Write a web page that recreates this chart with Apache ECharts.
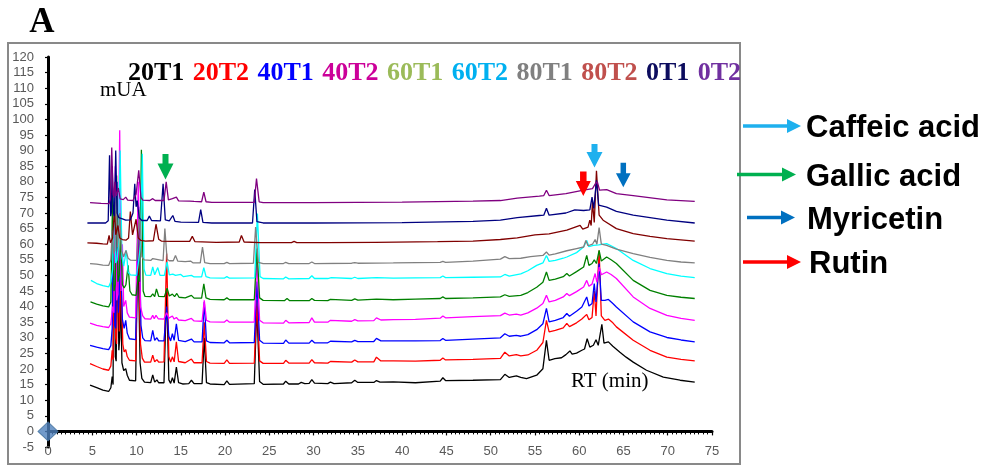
<!DOCTYPE html>
<html>
<head>
<meta charset="utf-8">
<script src="https://cdn.jsdelivr.net/npm/echarts/dist/echarts.min.js"></script>
<style>
html, body { margin: 0; padding: 0; background: #fff; }
#main { width: 988px; height: 466px; }
</style>
</head>
<body>
<div id="main"></div>
<script>
// sample names (legend) and compound labels
var sampleNames = ['20T1', '20T2', '40T1', '40T2', '60T1', '60T2', '80T1', '80T2', '0T1', '0T2'];
var compoundNames = ['Caffeic acid', 'Gallic acid', 'Myricetin', 'Rutin'];
var originPoint = [[0, 0]];

// chromatogram traces: [RT (min), mUA]
var trace20T1 = [[4.75,14.8],[5.5,14.0],[6.2,13.2],[6.85,12.8],[7.1,14],[7.25,17.6],[7.35,15],[7.45,70],[7.6,24],[7.7,22.5],[7.85,62],[8.0,26],[8.1,30],[8.2,45],[8.35,22],[8.55,19.5],[8.78,20.1],[8.95,18],[9.2,16.4],[9.9,16.2],[10.15,62],[10.4,22],[10.6,17],[10.9,15.8],[11.6,15.6],[11.83,18.1],[12.05,15.8],[12.3,16.5],[12.5,15.6],[13.1,15.6],[13.4,45],[13.65,16.5],[13.85,15.4],[14.05,17.2],[14.25,15.5],[14.5,20.6],[14.75,15.6],[15.2,15.2],[15.9,15.3],[16.2,16.4],[16.5,15.3],[17.4,15.3],[17.65,30],[17.9,15.6],[18.3,15.2],[19.9,15.0],[20.2,16.2],[20.5,15.1],[23.3,15.3],[23.58,40],[23.9,16],[24.3,15.1],[26.6,15.2],[26.85,16.1],[27.2,15.2],[28.3,15.2],[28.6,15.7],[29.0,15.3],[29.5,15.4],[29.8,16.6],[30.1,15.5],[31.6,15.3],[31.9,15.8],[32.3,15.3],[34.3,15.6],[34.65,16.4],[35,15.7],[36.8,15.7],[37.1,16.3],[37.5,15.8],[39,15.9],[41.5,15.6],[44.3,16.1],[44.6,17.2],[44.9,16.3],[48,16.4],[51.1,16.6],[51.6,18.3],[52.1,17.3],[52.9,17.8],[53.4,17.3],[54.05,16.9],[55.2,18],[55.9,20.1],[56.3,29.2],[56.6,22.8],[57.25,23.3],[58.0,23.6],[58.5,24.6],[58.95,25.8],[59.2,24.8],[59.7,25.1],[60.3,26],[60.6,26.4],[60.9,29.7],[61.2,27],[61.6,27.6],[61.9,29.4],[62.15,27.6],[62.56,34.3],[62.8,28.3],[63.3,28.7],[63.8,27.3],[64.6,25.4],[65.3,23.8],[66.1,22.2],[67.6,19.6],[69.5,17.4],[71.4,16.4],[73.05,15.8]];
var trace20T2 = [[4.75,21.7],[5.5,20.8],[6.2,20.0],[6.85,19.6],[7.1,21],[7.25,26],[7.35,23],[7.5,74],[7.65,30],[7.75,28],[7.9,68],[8.05,32],[8.25,50],[8.45,28],[8.6,25.5],[8.78,26.2],[8.95,24],[9.2,22.8],[9.9,22.6],[10.2,66],[10.45,28],[10.65,23.5],[10.9,22.2],[11.6,22.2],[11.83,24.4],[12.05,22.3],[12.3,23],[12.5,22.2],[13.1,22.3],[13.4,57],[13.65,24],[13.85,22.2],[14.05,23.9],[14.25,22.3],[14.5,28.7],[14.75,22.4],[15.5,22],[16.2,23.2],[16.5,22],[17.4,22],[17.65,35],[17.9,22.4],[18.3,21.9],[19.9,21.8],[20.2,22.9],[20.5,21.8],[23.3,21.9],[23.6,42],[23.9,22.6],[24.3,21.8],[26.6,21.8],[26.85,22.8],[27.2,21.9],[29.5,21.9],[29.8,23],[30.1,22],[31.6,21.9],[31.9,22.4],[34.3,22.2],[34.65,22.9],[35,22.3],[36.8,22.3],[37.1,23.8],[37.6,22.6],[39,22.6],[41.5,22.5],[44.3,22.8],[44.6,23.5],[44.9,22.9],[48,23.1],[51.1,23.4],[51.6,25.4],[52.1,24.2],[52.9,24.6],[53.4,24.2],[54.2,24.5],[55.2,26],[55.9,28.5],[56.3,35.6],[56.6,31.9],[57.3,32.4],[58.2,33.2],[58.6,34.6],[58.9,33.6],[59.7,34.8],[60.3,36],[60.85,37.5],[61.1,35.8],[61.45,36.5],[61.7,45],[61.9,37],[62.25,58],[62.5,37],[62.9,35.6],[63.3,36.0],[63.8,34.8],[64.2,33.5],[66.1,29.2],[68,26],[69.9,23.8],[71.5,23.1],[73.05,22.6]];
var trace40T1 = [[4.75,27.6],[5.5,27],[6.2,26.5],[6.85,26.2],[7.1,27.5],[7.25,33],[7.4,72],[7.55,34],[7.65,33],[7.8,80],[7.95,38],[8.2,55],[8.4,36],[8.6,33],[8.78,35.6],[8.95,31.5],[9.2,29.7],[9.9,29.4],[10.25,72],[10.5,34],[10.7,30],[10.95,29.1],[11.6,29],[11.83,32.4],[12.05,29.2],[12.3,30],[12.5,29],[13.1,29],[13.4,40],[13.65,30.5],[13.85,29],[14.05,31.3],[14.25,29.2],[14.5,34.5],[14.75,29.2],[15.5,28.8],[16.2,29.6],[16.5,28.7],[17.4,28.7],[17.65,41.5],[17.9,29],[18.3,28.5],[19.9,28.4],[20.2,29.2],[20.5,28.4],[23.3,28.5],[23.6,48],[23.9,29.2],[24.3,28.3],[26.6,28.2],[26.85,29.3],[27.2,28.3],[29.5,28.3],[29.8,29.2],[30.1,28.4],[31.6,28.4],[31.9,28.9],[34.3,28.7],[34.65,29.2],[35,28.8],[36.8,28.8],[37.1,29.8],[37.6,29],[39,29],[41.5,29],[44.3,29.1],[44.6,29.8],[44.9,29.2],[48,29.6],[51.1,30.0],[51.6,31.3],[52.1,30.5],[52.9,30.8],[53.4,30.5],[54.2,31],[55.2,32.6],[55.9,34.5],[56.3,39.4],[56.6,35.1],[57.3,35.6],[58.2,36.5],[58.6,37.8],[58.9,36.9],[59.7,38.5],[60.3,39.9],[60.85,43.1],[61.1,40.2],[61.45,41],[61.7,47.4],[61.9,41.5],[62.25,53.8],[62.5,42],[62.9,42],[63.3,42.3],[63.8,41],[64.2,39.9],[66.1,35.1],[68,31.9],[69.9,30.1],[71.5,29.3],[73.05,28.7]];
var trace40T2 = [[4.75,34.7],[5.5,34],[6.2,33.6],[6.85,33.3],[7.1,34.5],[7.3,40],[7.45,38],[7.6,85],[7.75,42],[7.9,44],[8.1,96.5],[8.25,45],[8.4,60],[8.55,40],[8.78,42],[8.95,38],[9.2,36.6],[9.9,36.4],[10.2,80],[10.45,40],[10.7,37],[10.95,36.1],[11.6,36],[11.83,37.2],[12.0,36.1],[12.2,37.2],[12.45,36.1],[13.1,36],[13.4,38],[13.65,36.3],[14.05,37],[14.25,36],[14.5,36.5],[14.75,35.7],[15.5,35.5],[16.2,36.2],[16.5,35.4],[17.4,35.3],[17.65,42],[17.9,35.6],[18.3,35.1],[19.9,35],[20.2,35.7],[20.5,35],[23.3,35],[23.6,55],[23.9,35.6],[24.3,34.8],[26.6,34.7],[26.85,35.6],[27.2,34.8],[29.5,34.9],[29.8,36.4],[30.1,35],[31.6,35],[31.9,35.6],[34.3,35.3],[34.65,35.8],[35,35.4],[36.8,35.5],[37.1,36.4],[37.6,35.7],[39,35.8],[41.5,35.9],[44.3,36.3],[44.6,37],[44.9,36.4],[48,36.8],[51.1,37.1],[51.6,37.9],[52.1,37.3],[52.9,37.6],[53.4,37.3],[54.2,38],[55.2,39.5],[55.9,41],[56.3,43.6],[56.6,41.5],[57.3,42],[58.2,43.1],[58.6,44.2],[58.9,43.5],[59.7,44.8],[60.5,46.3],[60.85,48.4],[61.1,46.5],[61.45,47.2],[61.8,50.6],[62.0,47.8],[62.25,52.7],[62.5,50.2],[63.1,51.1],[63.6,50.3],[64.2,49],[66.1,43.1],[68,39.4],[69.9,37.2],[71.5,36.2],[73.05,35.6]];
var trace60T1 = [[4.8,41.5],[5.5,40.8],[6.2,40.2],[6.85,39.9],[7.1,41.5],[7.3,76],[7.45,45],[7.6,47],[7.75,82],[7.9,48],[8.05,50],[8.2,65],[8.4,47],[8.6,46],[8.8,47],[9.05,53.2],[9.25,45],[9.5,43.8],[9.95,43.6],[10.2,50],[10.35,48],[10.55,90.3],[10.75,45],[10.95,43.3],[11.6,43.2],[11.83,44.1],[12.05,43.2],[12.25,45.7],[12.5,43.3],[13.15,43.2],[13.45,45.9],[13.7,43.4],[14.05,44],[14.3,43.2],[14.55,44.2],[14.8,43],[15.5,42.8],[16.2,43.6],[16.5,42.7],[17.35,42.7],[17.6,47.3],[17.85,42.8],[18.3,42.3],[19.9,42.2],[20.2,42.8],[20.5,42.2],[23.3,42.2],[23.6,58.6],[23.9,42.8],[24.3,42],[26.7,41.9],[27.0,42.6],[27.3,41.9],[29.5,41.9],[29.8,42.6],[30.1,42],[31.6,41.9],[31.9,42.3],[34.3,42],[34.65,42.5],[35,42.1],[37.1,42.4],[39,42.2],[41.5,42.4],[44.3,42.6],[44.6,43.1],[44.9,42.6],[48,42.8],[51.1,43.1],[51.6,43.8],[52.1,43.3],[53.4,43.6],[54.2,44.5],[55.2,46.2],[55.9,47.8],[56.3,51.1],[56.6,48.4],[57.3,48.8],[58.2,49.6],[58.6,50.6],[58.9,49.8],[59.7,51.2],[60.5,52.7],[60.85,56.4],[61.1,53.2],[61.45,53.8],[61.7,55],[61.95,53.8],[62.25,58],[62.5,54.6],[63.1,55.9],[63.6,55],[64.2,53.8],[66.1,48.4],[68,45.2],[69.9,43.6],[71.5,43],[73.05,42.6]];
var trace60T2 = [[4.85,48.4],[5.5,47.4],[6.2,46.7],[6.85,46.3],[7.1,48],[7.3,52],[7.5,78],[7.65,54],[7.8,55],[7.95,60],[8.15,90],[8.35,56],[8.55,53],[8.85,58],[9.05,51],[9.3,50.2],[10.0,50],[10.25,55],[10.45,60],[10.65,89],[10.85,52],[11.05,50.1],[11.6,50],[11.83,52.7],[12.05,50.2],[12.4,52.5],[12.65,50],[13.15,50],[13.45,54.3],[13.7,50.2],[14.1,50.4],[14.4,50],[15.0,50.3],[15.3,49.6],[16.2,50],[16.5,49.5],[17.35,49.5],[17.6,52.5],[17.85,49.6],[18.3,49.2],[19.9,49.1],[20.2,49.6],[20.5,49.1],[23.35,49.2],[23.65,69.8],[23.95,49.6],[24.3,49],[26.6,48.9],[26.85,49.5],[27.2,48.9],[29.5,49],[29.8,49.9],[30.1,49],[31.6,49],[32,49.3],[34.3,49],[34.65,49.4],[35,49],[37.1,49.3],[39,49.1],[41.5,49.2],[44.3,49.3],[44.6,49.8],[44.9,49.3],[48,49.4],[51.1,49.5],[51.6,50.3],[52.1,49.8],[53.4,50.5],[54.2,51.5],[55.2,53.2],[55.9,54],[56.3,56.4],[56.6,54.5],[57.3,54.8],[58.2,55.5],[58.6,55.9],[59.7,57.3],[60.5,59.1],[60.85,61.2],[61.1,59.2],[61.6,59.6],[62.2,59.8],[63.1,60.2],[63.6,59.5],[64.2,58.6],[66.1,54.8],[68,52.2],[69.9,50.6],[71.5,49.8],[73.05,49.3]];
var trace80T1 = [[4.75,53.8],[5.5,53.6],[6.2,53.3],[6.85,53.2],[7.1,55],[7.25,64.4],[7.4,57],[7.55,58],[7.7,75],[7.85,59],[8.1,70],[8.3,58],[8.55,56],[8.8,58],[9.05,55.5],[9.3,54.9],[10.0,54.8],[10.35,71],[10.6,56],[10.85,55],[11.6,54.8],[11.83,55.4],[12.05,54.8],[13.0,54.7],[13.2,65],[13.45,55.2],[13.7,54.7],[14.15,54.7],[14.4,56.4],[14.65,54.6],[15.5,54.4],[16.1,54.6],[16.4,54],[17.2,54],[17.45,59.1],[17.7,54.1],[18.3,53.8],[19.9,53.8],[20.2,54.2],[20.5,53.8],[23.2,53.9],[23.45,65.5],[23.75,54.2],[24.3,53.8],[26.6,53.8],[26.85,54.2],[27.2,53.8],[29.5,53.8],[29.8,54.3],[30.1,53.8],[34.3,53.9],[34.65,54.1],[35,53.9],[39,54],[44.3,54.2],[44.6,54.5],[44.9,54.2],[48,54.6],[51.1,55.2],[51.6,56],[52.1,55.4],[53.4,55.5],[54.5,56],[55.9,56.4],[56.3,57.5],[56.6,56.5],[57.3,56.9],[58.6,57.9],[59.7,58.6],[60.5,59.1],[60.75,61.2],[61.0,59.5],[61.5,60],[61.8,61.5],[62.0,60],[62.25,65.3],[62.5,60],[63.1,59.6],[64.2,58.4],[66.1,57],[68,55.8],[69.9,54.8],[71.5,54.3],[73.05,54]];
var trace80T2 = [[4.45,60.4],[5.5,60.3],[6.2,60.1],[6.7,60.0],[6.9,62.8],[7.05,60.5],[7.3,62],[7.5,71],[7.65,63],[7.9,66],[8.1,62],[8.4,61.5],[8.8,61.3],[9.1,62],[9.3,70.5],[9.55,63],[9.75,62.5],[9.95,68],[10.2,62],[10.5,61.2],[11.0,61],[11.9,61.1],[12.2,66.4],[12.5,61.6],[12.8,61],[14,60.9],[16.0,60.9],[16.3,62.5],[16.6,60.8],[19,60.6],[21.6,60.7],[21.85,62.8],[22.15,60.7],[24,60.5],[27.5,60.5],[27.8,60.9],[28.1,60.5],[31.5,60.5],[37,60.6],[44,60.8],[48,61],[51.1,61.5],[53,62],[55,63],[56.6,63.3],[58.6,64.5],[60.1,66],[60.4,64.8],[61.0,65.5],[61.2,67.7],[61.35,66],[61.5,73.5],[61.7,67],[61.95,83.5],[62.25,69.3],[62.7,67.7],[64.2,65],[66.1,63.4],[68,62.5],[69.9,61.8],[73.05,61]];
var trace0T1 = [[4.45,66.8],[5.5,66.8],[6.5,66.8],[6.8,67.5],[6.95,88.5],[7.08,69],[7.15,70],[7.25,85],[7.4,70],[7.5,69],[7.65,90],[7.8,70],[8.0,68.5],[8.33,68.2],[8.78,67.7],[9.3,67.8],[9.6,70],[9.8,79.4],[9.95,72],[10.08,74],[10.3,68.5],[10.6,67.6],[11.2,67.6],[11.45,69],[11.7,67.6],[12.7,67.5],[13.0,79.4],[13.25,67.8],[13.7,67.5],[14.1,69.2],[14.35,67.3],[15,67.1],[17.0,67],[17.25,71.1],[17.5,67],[18.5,66.8],[20,66.8],[23.1,66.8],[23.35,77.5],[23.6,67.2],[24.3,66.8],[30,66.8],[40,66.9],[48,67.3],[51.1,67.7],[53,68.5],[55.5,69.2],[56.0,69.3],[56.3,71.5],[56.6,69.3],[58.5,70],[59.5,71],[60.5,70.8],[61.2,71],[61.45,75.1],[61.65,71.5],[61.95,80.5],[62.2,72.5],[63.1,71.9],[64.2,70.5],[66.1,69.3],[69.9,67.7],[73.05,66.8]];
var trace0T2 = [[4.75,73.3],[6.0,73.1],[6.9,73],[7.05,74.5],[7.2,91],[7.35,76],[7.45,75],[7.55,80],[7.7,75.5],[7.95,78],[8.15,74.5],[8.5,74.3],[8.78,75.1],[9.0,74.1],[9.6,74],[9.95,76],[10.25,83.7],[10.5,75],[10.7,74.1],[11.5,74],[11.83,74.6],[12.1,74],[13.1,74],[13.35,80],[13.6,74.2],[14.05,74.6],[14.25,74],[14.5,75.1],[14.75,73.9],[16.0,73.8],[16.2,74.2],[16.5,73.7],[17.35,73.6],[17.6,76.7],[17.85,73.6],[18.5,73.4],[23.3,73.4],[23.55,81],[23.85,73.6],[24.3,73.3],[30,73.3],[40,73.5],[48,73.8],[51.1,74],[53,74.8],[55.5,75.4],[56.0,75.6],[56.3,77.3],[56.6,75.6],[58.5,76.2],[60.5,77.3],[61.5,77.8],[61.8,79.3],[62.05,80],[62.3,77.3],[63.1,77.5],[64.2,76.2],[66.1,75.6],[69.9,74.2],[73.05,73.7]];

var traces = [trace20T1, trace20T2, trace40T1, trace40T2, trace60T1, trace60T2, trace80T1, trace80T2, trace0T1, trace0T2];

var lineColors = ['#000000', '#ff0000', '#0000ff', '#ff00ff', '#008000', '#00ffff', '#808080', '#800000', '#000080', '#800080'];
var legendColors = ['#000000', '#ff0000', '#0000ff', '#cc0099', '#9bbb59', '#00b0f0', '#808080', '#c0504d', '#0c0c5e', '#7030a0'];
var compoundColors = ['#1eb0ee', '#00b050', '#0070c0', '#ff0000'];

var chart = echarts.init(document.getElementById('main'));

var series = sampleNames.map(function (n, i) {
    return {
        name: n,
        type: 'line',
        data: traces[i],
        showSymbol: false,
        symbol: 'none',
        silent: true,
        lineStyle: { color: lineColors[i], width: 1.3 },
        itemStyle: { color: lineColors[i] },
        z: 2
    };
});
series.push({
    type: 'scatter',
    data: originPoint,
    symbol: 'diamond',
    symbolSize: [20, 19],
    clip: false,
    silent: true,
    itemStyle: { color: '#4f81bd', borderColor: '#41709e', borderWidth: 1 },
    z: 10
});

// block arrows pointing down at the marked peaks
function downArrow(cx, top, shaftW, neck, headW, tip, color) {
    return {
        type: 'polygon',
        silent: true,
        shape: { points: [
            [cx - shaftW / 2, top], [cx + shaftW / 2, top], [cx + shaftW / 2, neck],
            [cx + headW / 2, neck], [cx, tip], [cx - headW / 2, neck], [cx - shaftW / 2, neck]
        ] },
        style: { fill: color },
        z: 20
    };
}
// side arrows before compound names
function sideArrow(x0, x1, y, color) {
    return [{
        type: 'line', silent: true,
        shape: { x1: x0, y1: y, x2: x1 - 12, y2: y },
        style: { stroke: color, lineWidth: 3.5 }, z: 20
    }, {
        type: 'polygon', silent: true,
        shape: { points: [[x1 - 14, y - 7], [x1, y], [x1 - 14, y + 7]] },
        style: { fill: color }, z: 20
    }];
}

var graphics = [
    { type: 'rect', silent: true, shape: { x: 8, y: 43, width: 732, height: 421 },
      style: { fill: null, stroke: '#898989', lineWidth: 2 }, z: 0 },
    { type: 'text', silent: true, x: 42, y: 23,
      style: { text: 'A', font: 'bold 35px "Liberation Serif", "Times New Roman", serif', fill: '#000', align: 'center', verticalAlign: 'middle' } },
    { type: 'text', silent: true, x: 100, y: 90,
      style: { text: 'mUA', font: '21px "Liberation Serif", "Times New Roman", serif', fill: '#000', align: 'left', verticalAlign: 'middle' }, z: 15 },
    { type: 'text', silent: true, x: 571, y: 381,
      style: { text: 'RT (min)', font: '21px "Liberation Serif", "Times New Roman", serif', fill: '#000', align: 'left', verticalAlign: 'middle' }, z: 15 },
    downArrow(165.5, 154, 6, 163.5, 16, 179.5, '#00b050'),
    downArrow(594.5, 144, 6, 152, 16, 167.5, '#1eb0ee'),
    downArrow(583.3, 171.5, 6.5, 181, 15, 196, '#ff0000'),
    downArrow(623.3, 162.7, 5.5, 173.3, 14.7, 187.3, '#0070c0')
];
var labelY = [128.5, 177, 220, 264.5];
var arrowX = [[743, 801], [737, 796], [747, 795], [743, 801]];
var labelX = [806, 806, 807, 809];
compoundNames.forEach(function (c, i) {
    graphics = graphics.concat(sideArrow(arrowX[i][0], arrowX[i][1], labelY[i] - 2.5, compoundColors[i]));
    graphics.push({
        type: 'text', silent: true, x: labelX[i], y: labelY[i],
        style: { text: c, font: 'bold 31px "Liberation Sans", Arial, sans-serif', fill: '#000', align: 'left', verticalAlign: 'middle' },
        z: 20
    });
});

var option = {
    animation: false,
    backgroundColor: '#fff',
    grid: { left: 48, top: 57, width: 664, height: 390, containLabel: false, outerBoundsMode: 'none' },
    legend: {
        data: sampleNames.map(function (n, i) { return { name: n, textStyle: { color: legendColors[i] } }; }),
        icon: 'none',
        itemWidth: 0,
        itemHeight: 26,
        itemGap: 3.4,
        padding: 0,
        left: 123,
        top: 60,
        selectedMode: false,
        textStyle: { fontFamily: '"Liberation Serif", "Times New Roman", serif', fontWeight: 'bold', fontSize: 26, lineHeight: 26 }
    },
    xAxis: {
        type: 'value', min: 0, max: 75, interval: 5,
        axisLine: { onZero: true, lineStyle: { color: '#000', width: 3 } },
        axisTick: { show: true, length: 4, lineStyle: { color: '#000', width: 1.2 } },
        minorTick: { show: true, splitNumber: 10, length: 3, lineStyle: { color: '#000', width: 1 } },
        splitLine: { show: false },
        axisLabel: { color: '#595959', fontSize: 13, fontFamily: '"Liberation Sans", Arial, sans-serif', margin: -2 }
    },
    yAxis: {
        type: 'value', min: -5, max: 120, interval: 5,
        axisLine: { show: true, lineStyle: { color: '#000', width: 3 } },
        axisTick: { show: true, length: 3, lineStyle: { color: '#000', width: 1.2 } },
        splitLine: { show: false },
        axisLabel: { color: '#595959', fontSize: 13, fontFamily: '"Liberation Sans", Arial, sans-serif', margin: 14 }
    },
    graphic: graphics,
    series: series
};
chart.setOption(option);
</script>
</body>
</html>
